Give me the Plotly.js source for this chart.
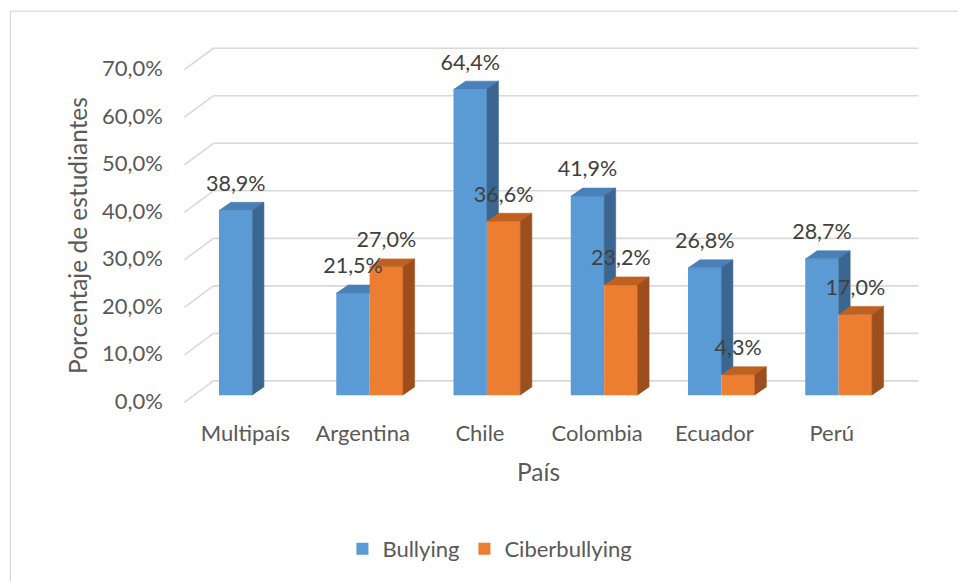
<!DOCTYPE html>
<html>
<head>
<meta charset="utf-8">
<script src="https://cdn.plot.ly/plotly-3.0.1.min.js"></script>
<style>html,body{margin:0;padding:0;background:#fff;}#chart{width:958px;height:581px;}</style>
</head>
<body>
<div id="chart"></div>
<script>
// ---- data ----
const categories = ['Multipaís', 'Argentina', 'Chile', 'Colombia', 'Ecuador', 'Perú'];
const bullying = [38.9, 21.5, 64.4, 41.9, 26.8, 28.7];
const ciberbullying = [null, 27.0, 36.6, 23.2, 4.3, 17.0];
const seriesNames = ['Bullying', 'Ciberbullying'];
const yTickValues = [0, 10, 20, 30, 40, 50, 60, 70];
const xTitle = 'País';
const yTitle = 'Porcentaje de estudiantes';

// ---- geometry / style ----
const W = 958, H = 581;
const PX_CAT = 117.25, PX_PCT = 4.763;
const xRange = [-0.72, 5.6], yRange = [-12.8, 80];
const x0px = 252, y0px = 396;            // pixel of category 0 / value 0
const mL = x0px + xRange[0] * PX_CAT;
const mR = W - (x0px + xRange[1] * PX_CAT);
const mT = y0px - yRange[1] * PX_PCT;
const mB = H - (y0px - yRange[0] * PX_PCT);
const plotW = W - mL - mR, plotH = H - mT - mB;
const px2fx = p => (p - mL) / plotW;
const py2fy = p => (H - mB - p) / plotH;

const barW = 0.285;
const dX = 11.5 / PX_CAT, dY = 8 / PX_PCT;   // bar depth
const wallY = 14.3 / PX_PCT, floorY = -7.2 / PX_PCT;
const FONT = 'Lato, "Open Sans", sans-serif';
const C = {
  blue: '#5B9BD5', blueTop: '#4A80B8', blueSide: '#3A6691',
  orange: '#ED7D31', orangeTop: '#C0611F', orangeSide: '#9C4F1C',
  grid: '#D9D9D9', text: '#595959', label: '#404040'
};

const xs = categories.map((c, i) => i);
const bx = xs.map(i => i - barW / 2);
const ox = xs.map(i => i + barW / 2);

function face(pts, color) {
  const x = [], y = [];
  pts.forEach(p => { if (p) { p.forEach(q => { x.push(q[0]); y.push(q[1]); }); x.push(null); y.push(null); } });
  return { type: 'scatter', mode: 'lines', x, y, fill: 'toself', fillcolor: color,
           line: { width: 0.6, color }, hoverinfo: 'skip', showlegend: false };
}

// blue faces
const blueTop = bullying.map((v, i) => {
  const l = bx[i] - barW / 2, r = bx[i] + barW / 2, o = ciberbullying[i];
  if (o !== null && v < o) return [[l, v], [r, v], [r, v + dY], [l + dX, v + dY]];
  return [[l, v], [r, v], [r + dX, v + dY], [l + dX, v + dY]];
});
const blueSide = bullying.map((v, i) => {
  const r = bx[i] + barW / 2, o = ciberbullying[i];
  if (o === null) return [[r, 0], [r, v], [r + dX, v + dY], [r + dX, dY]];
  if (v <= o) return null;
  return [[r, o], [r, v], [r + dX, v + dY], [r + dX, o]];
});
const orangeTop = ciberbullying.map((v, i) => {
  if (v === null) return null;
  const l = ox[i] - barW / 2, r = ox[i] + barW / 2;
  return [[l, v], [r, v], [r + dX, v + dY], [l + dX, v + dY]];
});
const orangeSide = ciberbullying.map((v, i) => {
  if (v === null) return null;
  const r = ox[i] + barW / 2;
  return [[r, 0], [r, v], [r + dX, v + dY], [r + dX, dY]];
});

const fmt = v => v === null ? '' : v.toFixed(1).replace('.', ',') + '%';
const labelOff = 25 / PX_PCT;

const traces = [
  { type: 'bar', name: seriesNames[0], x: bx, y: bullying, width: barW, marker: { color: C.blue, line: { width: 0 } }, hoverinfo: 'skip' },
  { type: 'bar', name: seriesNames[1], x: ox, y: ciberbullying, width: barW, marker: { color: C.orange, line: { width: 0 } }, hoverinfo: 'skip' },
  face(blueTop, C.blueTop),
  face(blueSide, C.blueSide),
  face(orangeTop, C.orangeTop),
  face(orangeSide, C.orangeSide),
  { type: 'scatter', mode: 'text', showlegend: false, hoverinfo: 'skip',
    x: bx.concat(ox),
    y: bullying.map(v => v === null ? null : v + labelOff).concat(ciberbullying.map(v => v === null ? null : v + labelOff)),
    text: bullying.map(fmt).concat(ciberbullying.map(fmt)),
    textposition: 'middle center', textfont: { family: FONT, size: 21.5, color: C.label }, cliponaxis: false }
];

// grid on back wall + diagonals + border
const shapes = [];
const wallL = px2fx(213), wallR = px2fx(918), floorL = px2fx(184);
yTickValues.forEach(v => {
  shapes.push({ type: 'line', layer: 'below', xref: 'paper', yref: 'y', x0: wallL, x1: wallR, y0: v + wallY, y1: v + wallY, line: { color: C.grid, width: 1.6 } });
  shapes.push({ type: 'line', layer: 'below', xref: 'paper', yref: 'y', x0: floorL, x1: wallL, y0: v + floorY, y1: v + wallY, line: { color: C.grid, width: 1.6 } });
});
shapes.push({ type: 'rect', layer: 'below', xref: 'paper', yref: 'paper', x0: px2fx(10), x1: px2fx(975), y0: py2fy(600), y1: py2fy(11), line: { color: C.grid, width: 1.2 }, fillcolor: 'rgba(0,0,0,0)' });

const layout = {
  width: W, height: H,
  margin: { l: mL, r: mR, t: mT, b: mB, pad: 0 },
  paper_bgcolor: '#ffffff', plot_bgcolor: 'rgba(0,0,0,0)',
  separators: ',.',
  barmode: 'overlay',
  font: { family: FONT, color: C.text, size: 22 },
  xaxis: {
    type: 'linear', range: xRange, tickvals: xs, ticktext: categories,
    anchor: 'free', position: py2fy(y0px),
    showgrid: false, zeroline: false, showline: false, ticks: '',
    ticklabelshift: -7, ticklabelstandoff: 23,
    tickfont: { family: FONT, size: 22, color: C.text },
    title: { text: xTitle, font: { family: FONT, size: 24.5, color: C.text }, standoff: 18 },
    fixedrange: true
  },
  yaxis: {
    range: yRange, tickvals: yTickValues, ticktext: yTickValues.map(fmt),
    showgrid: false, zeroline: false, showline: false, ticks: '',
    ticklabelshift: 6, ticklabelstandoff: 4,
    tickfont: { family: FONT, size: 22, color: C.text },
    title: { text: yTitle, font: { family: FONT, size: 24.5, color: C.text }, standoff: 7 },
    fixedrange: true
  },
  legend: {
    orientation: 'h', x: px2fx(342), xanchor: 'left', y: py2fy(549), yanchor: 'middle',
    font: { family: FONT, size: 22, color: C.text }, bgcolor: 'rgba(0,0,0,0)'
  },
  shapes: shapes,
  showlegend: true
};

Plotly.newPlot('chart', traces, layout, { staticPlot: true, displayModeBar: false });
</script>
</body>
</html>
